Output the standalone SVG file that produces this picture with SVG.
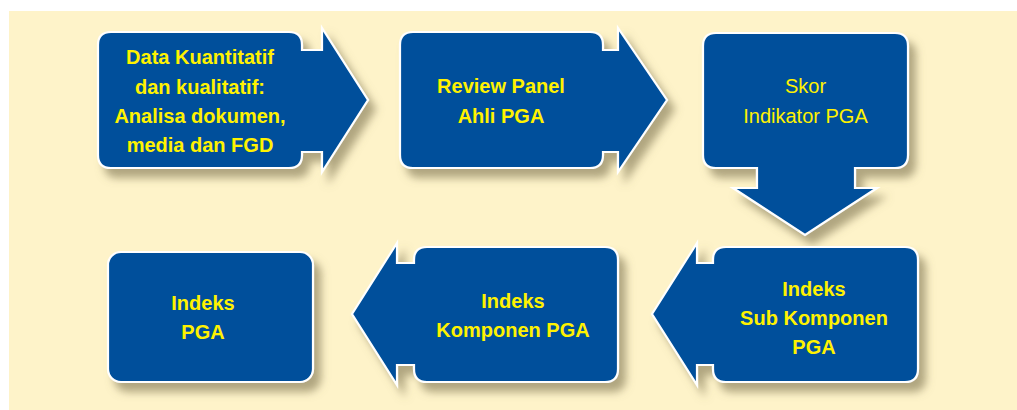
<svg xmlns="http://www.w3.org/2000/svg" width="1017" height="410" viewBox="0 0 1017 410">
<defs>
<filter id="sh" x="-10%" y="-10%" width="130%" height="140%">
<feDropShadow dx="7" dy="9" stdDeviation="4" flood-color="#7d7250" flood-opacity="0.6"/>
</filter>
</defs>
<style>
.box{fill:#02509B;stroke:#ffffff;stroke-width:2.2;stroke-linejoin:miter;filter:url(#sh)}
.t{font-family:"Liberation Sans",Arial,sans-serif;font-size:20px;fill:#FFF200;text-anchor:middle}
.b{font-weight:bold}
</style>
<rect x="0" y="0" width="1017" height="410" fill="#ffffff"/>
<rect x="9" y="11" width="1008" height="399" fill="#FEF3C9"/>
<g id="connectors"></g>
<g id="node1">
<path class="box" d="M111,32 H289 Q302,32 302,45 V50 H322 V28 L368,100 L322,172 V152 H302 V155 Q302,168 289,168 H111 Q98,168 98,155 V45 Q98,32 111,32 Z"/>
<text class="t b" x="200" y="64">Data Kuantitatif</text>
<text class="t b" x="200" y="94">dan kualitatif:</text>
<text class="t b" x="200" y="123">Analisa dokumen,</text>
<text class="t b" x="200" y="152">media dan FGD</text>
</g>
<g id="node2">
<path class="box" d="M413,32 H590 Q603,32 603,45 V50 H618 V28 L667,100 L618,172 V152 H603 V155 Q603,168 590,168 H413 Q400,168 400,155 V45 Q400,32 413,32 Z"/>
<text class="t b" x="501" y="93">Review Panel</text>
<text class="t b" x="501" y="123">Ahli PGA</text>
</g>
<g id="node3">
<path class="box" d="M716,33 H895 Q908,33 908,46 V155 Q908,168 895,168 H855 V188 H877 L805,235 L733,188 H757 V168 H716 Q703,168 703,155 V46 Q703,33 716,33 Z"/>
<text class="t" x="805.5" y="93">Skor</text>
<text class="t" x="805.5" y="123">Indikator PGA</text>
</g>
<g id="node4">
<path class="box" d="M726,247 H905 Q918,247 918,260 V369 Q918,382 905,382 H726 Q713,382 713,369 V365 H697 V385 L652,314 L697,243 V263 H713 V260 Q713,247 726,247 Z"/>
<text class="t b" x="814" y="296">Indeks</text>
<text class="t b" x="814" y="325">Sub Komponen</text>
<text class="t b" x="814" y="354">PGA</text>
</g>
<g id="node5">
<path class="box" d="M427,247 H605 Q618,247 618,260 V369 Q618,382 605,382 H427 Q414,382 414,369 V365 H397 V385 L352,314 L397,243 V263 H414 V260 Q414,247 427,247 Z"/>
<text class="t b" x="513" y="308">Indeks</text>
<text class="t b" x="513" y="337">Komponen PGA</text>
</g>
<g id="node6">
<rect class="box" x="108" y="252" width="205" height="130" rx="13" ry="13"/>
<text class="t b" x="203" y="310">Indeks</text>
<text class="t b" x="203" y="339">PGA</text>
</g>
</svg>
